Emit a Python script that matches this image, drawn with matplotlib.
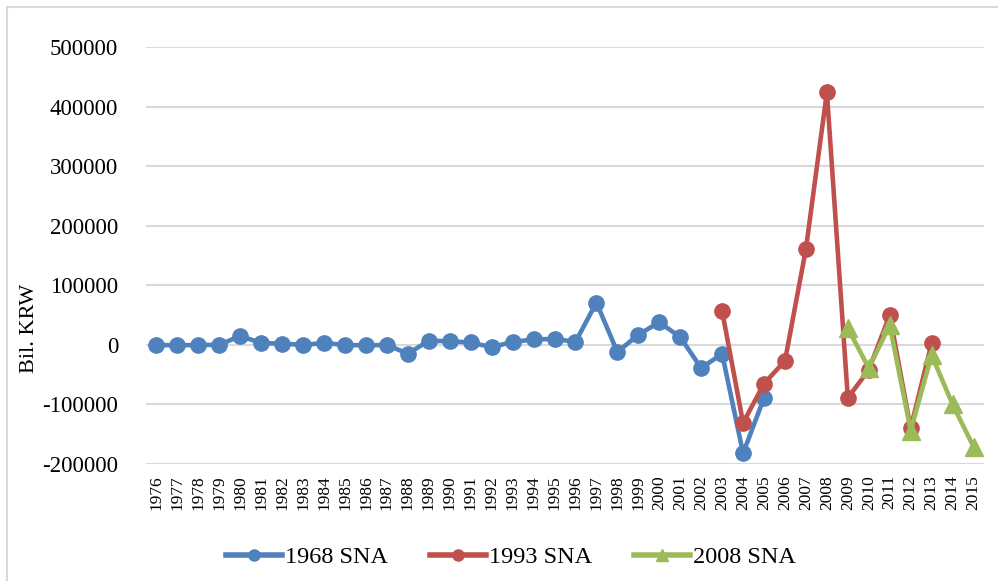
import matplotlib
matplotlib.use("Agg")
import matplotlib.pyplot as plt
from matplotlib.patches import Rectangle
import numpy as np

years = [str(y) for y in range(1976, 2016)]

sna1968_years = list(range(1976, 2006))
sna1968 = [0, -1000, 0, 0, 15000, 3000, 2000, 0, 3000, 0,
           -1000, 0, -15000, 7000, 6000, 4000, -4000, 5000, 9000, 10000,
           5000, 71000, -12000, 17000, 38000, 13000, -39000, -15000, -182000, -89000]

sna1993_years = list(range(2003, 2014))
sna1993 = [57000, -131000, -65000, -27000, 161000, 424000, -89000, -42000, 50000, -140000, 3000]

sna2008_years = list(range(2009, 2016))
sna2008 = [28000, -39000, 33000, -144000, -17000, -100000, -171000]

yticks = [-200000, -100000, 0, 100000, 200000, 300000, 400000, 500000]

plt.rcParams['font.family'] = ['Liberation Serif', 'DejaVu Serif']

fig = plt.figure(figsize=(9.98, 5.81), dpi=100)
ax = fig.add_axes([146/998, 1-464/581, (984-146)/998, (464-47)/581])

def xpos(ys):
    return [years.index(str(y)) for y in ys]

blue, red, green = '#4F81BD', '#C0504D', '#9BBB59'
ax.plot(xpos(sna1968_years), sna1968, color=blue, lw=3.3, marker='o', ms=11, label='1968 SNA', zorder=3)
ax.plot(xpos(sna1993_years), sna1993, color=red, lw=3.3, marker='o', ms=11, label='1993 SNA', zorder=4)
ax.plot(xpos(sna2008_years), sna2008, color=green, lw=3.3, marker='^', ms=13, label='2008 SNA', zorder=5)

ax.set_xlim(-0.5, len(years) - 0.5)
ax.set_ylim(-200000, 500000)
ax.set_yticks(yticks)
ax.set_yticklabels([str(v) for v in yticks], fontsize=16.5)
ax.set_xticks(range(len(years)))
ax.set_xticklabels(years, rotation=90, fontsize=12.5)
ax.tick_params(axis='both', length=0)
ax.tick_params(axis='y', pad=20)
ax.tick_params(axis='x', pad=8)
ax.grid(axis='y', color='#D9D9D9', lw=1.5, zorder=0)
ax.set_axisbelow(True)
for s in ax.spines.values():
    s.set_visible(False)
ax.set_ylabel('Bil. KRW', fontsize=16)
ax.yaxis.set_label_coords((39-146)/838, (464-328)/417)

leg = fig.legend(loc='center', bbox_to_anchor=(0.512, 1-557/581), ncol=3, frameon=False,
                 fontsize=17.5, handlelength=2.3, columnspacing=1.7, handletextpad=0.15)
for h in leg.legend_handles:
    h.set_markersize(8)
    h.set_linewidth(4)

fig.patches.append(Rectangle((7/998, -0.05), 1.1, 1.05 - 7/581, transform=fig.transFigure,
                             fill=False, edgecolor='#D9D9D9', lw=1.5))

fig.savefig('out.png', dpi=100)
